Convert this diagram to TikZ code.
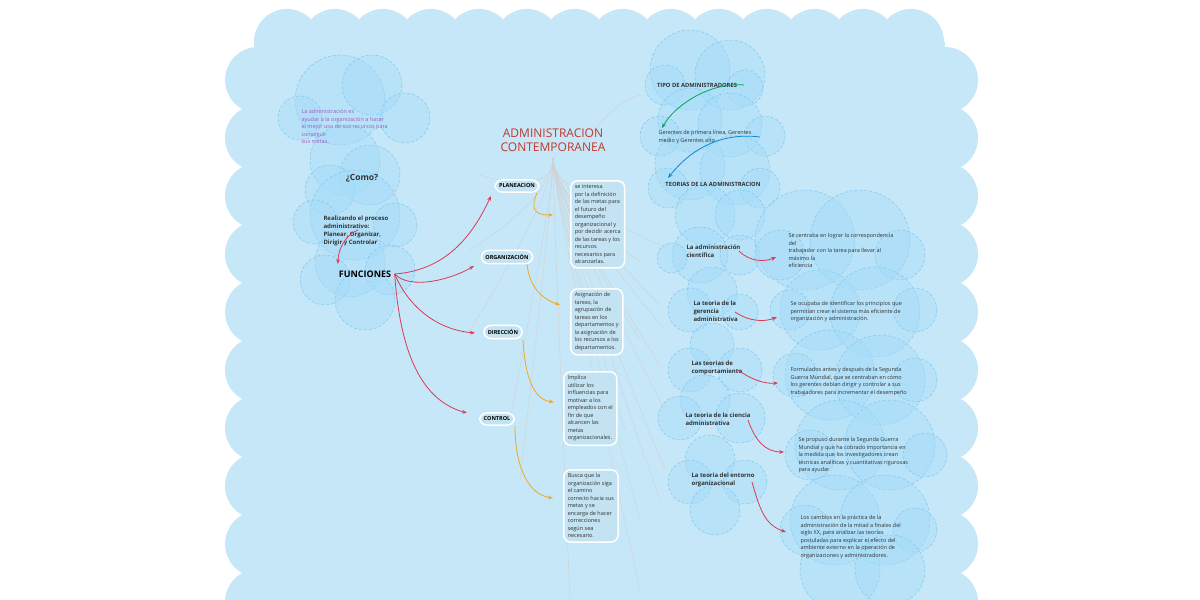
\documentclass[tikz,border=0pt]{standalone}
\usepackage{fontspec}
\setmainfont{Open Sans}
\usetikzlibrary{arrows.meta}
\definecolor{bgb}{HTML}{C6E7F8}
\definecolor{cl}{HTML}{A6DCF8}
\definecolor{cle}{HTML}{7FC8F0}
\definecolor{rd}{HTML}{D93A56}
\definecolor{org}{HTML}{F5A623}
\definecolor{pur}{HTML}{A05CC0}
\definecolor{tit}{HTML}{C0392B}
\definecolor{box}{HTML}{C3E2F2}
\definecolor{txt}{HTML}{333333}
\begin{document}
\begin{tikzpicture}[x=1pt,y=-1pt,
 cld/.style={fill=cl,fill opacity=0.45,draw=cle,densely dashed,line width=0.5pt},
 ra/.style={rd,line width=0.8pt,-{Stealth[length=5pt]}},
 oa/.style={org,line width=0.8pt,-{Stealth[length=5pt]}},
 gl/.style={gray!35,line width=0.45pt},
 tn/.style={font=\fontsize{6}{8}\selectfont\bfseries,text=txt,align=left},
 ds/.style={font=\fontsize{5.5}{7.5}\selectfont,text=txt,align=left},
 fb/.style={rounded corners=7pt,draw=white,line width=1.5pt,fill=box,font=\fontsize{5.5}{7.5}\selectfont\bfseries,inner sep=4pt},
 db/.style={rounded corners=7pt,draw=white,line width=1.5pt,fill=box,font=\fontsize{5.5}{7.5}\selectfont,text=txt,align=left,inner sep=4pt}]
\useasboundingbox (0,0) rectangle (1200,600);
\fill[white] (0,0) rectangle (1200,600);
% background scalloped region
\begin{scope}
\clip (0,0) rectangle (1200,600);
\fill[bgb] (258,42) rectangle (945,620);
\foreach \x in {287,335,383,431,479,527,575,623,671,719,767,815,863,911}
  \fill[bgb] (\x,42) circle (33);
\foreach \y in {80,138,196,254,312,370,428,486,544,602}{
  \fill[bgb] (258,\y) circle (33);
  \fill[bgb] (945,\y) circle (33);}
\end{scope}
% clouds left
\foreach \p/\r in {{(340,100)/45},{(372,85)/30},{(300,118)/22},{(405,118)/25},{(345,160)/35},{(370,175)/30},{(330,190)/25},{(355,215)/45},{(315,222)/22},{(395,225)/22},{(350,262)/35},{(325,280)/25},{(390,270)/25},{(365,300)/30}}
  \draw[cld] \p circle (\r);
% clouds right column
\foreach \p/\r in {{(690,70)/40},{(730,75)/35},{(665,85)/20},{(745,88)/18},{(690,120)/32},{(730,125)/32},{(660,136)/20},{(765,136)/20},{(690,165)/35},{(735,170)/35},{(668,188)/20},{(760,188)/20},{(705,215)/30},{(740,215)/25},{(700,255)/28},{(740,255)/20},{(672,258)/15},{(712,292)/25},{(690,310)/22},{(740,312)/18},{(712,345)/22},{(690,370)/22},{(740,370)/22},{(705,400)/25},{(680,418)/22},{(740,418)/25},{(710,460)/25},{(690,482)/22},{(745,482)/22},{(715,510)/25}}
  \draw[cld] \p circle (\r);
\foreach \p/\r in {{(805,240)/50},{(860,240)/50},{(780,255)/25},{(900,255)/25},{(820,310)/40},{(875,312)/45},{(790,310)/20},{(915,310)/22},{(830,375)/45},{(880,380)/45},{(795,375)/22},{(915,380)/22},{(840,445)/45},{(890,445)/45},{(810,455)/25},{(925,455)/22},{(835,520)/45},{(885,520)/45},{(805,530)/25},{(915,530)/22},{(840,570)/40},{(890,570)/35}}
  \draw[cld] \p circle (\r);
% gray fan lines
\foreach \ex/\ey in {480/175,470/250,470/330,630/195,640/262,640/340,625/430,640/520,660/245,660/305,665/330,660/365,665/410,665/470,660/500,640/590,570/600,520/480,510/420}
  \draw[gl] (553,158) .. controls (553,200) and (\ex,\ey) .. (\ex,\ey);
\draw[gl] (500,152) -- (530,150);
\draw[gl] (580,150) .. controls (600,120) and (620,100) .. (640,95);
% left texts
\node[ds,text=pur,anchor=north west] (adm) at (298,106) {La administración es\\ayudar a la organización a hacer\\el mejor uso de sus recursos para\\conseguir\\sus metas.};
\node[font=\fontsize{8.5}{10}\selectfont\bfseries,text=txt] (como) at (362,178) {¿Como?};
\node[tn,anchor=north west] (real) at (320,212) {Realizando el proceso\\administrativo:\\Planear, Organizar,\\Dirigir y Controlar};
\node[font=\fontsize{9}{10}\selectfont\bfseries,text=black] (fun) at (365,274) {FUNCIONES};
\node[font=\fontsize{12}{14}\selectfont,text=tit,align=center] (title) at (553,140) {ADMINISTRACION\\CONTEMPORANEA};
% function boxes
\node[fb] (pla) at (517,186) {PLANEACION};
\node[fb] (orgz) at (507,257) {ORGANIZACIÓN};
\node[fb] (dir) at (503,332) {DIRECCIÓN};
\node[fb] (con) at (497,419) {CONTROL};
\node[db,anchor=north west] (d1) at (570,180) {se interesa\\por la definición\\de las metas para\\el futuro del\\desempeño\\organizacional y\\por decidir acerca\\de las tareas y los\\recursos\\necesarios para\\alcanzarlas.};
\node[db,anchor=north west] (d2) at (570,288) {Asignación de\\tareas, la\\agrupación de\\tareas en los\\departamentos y\\la asignación de\\los recursos a los\\departamentos.};
\node[db,anchor=north west] (d3) at (563,371) {Implica\\utilizar los\\influencias para\\motivar a los\\empleados con el\\fin de que\\alcancen las\\metas\\organizacionales.};
\node[db,anchor=north west] (d4) at (563,469) {Busca que la\\organización siga\\el camino\\correcto hacia sus\\metas y se\\encarga de hacer\\correcciones\\según sea\\necesario.};
% arrows left
\draw[ra] (358,230) .. controls (345,235) and (338,250) .. (338,264);
\draw[ra] (fun.east) .. controls (450,270) and (475,230) .. (491,196);
\draw[ra] (fun.east) .. controls (410,290) and (450,280) .. (474,266);
\draw[ra] (fun.east) .. controls (410,310) and (440,330) .. (475,333);
\draw[ra] (fun.east) .. controls (400,350) and (420,400) .. (467,413);
\draw[oa] (pla.south) ++(20,0) .. controls (530,210) and (535,215) .. (553,215);
\draw[oa] (orgz.south) ++(20,0) .. controls (530,290) and (545,300) .. (560,305);
\draw[oa] (dir.south) ++(20,0) .. controls (525,380) and (535,400) .. (554,402);
\draw[oa] (con.south) ++(18,0) .. controls (515,470) and (530,495) .. (553,498);
% right column texts
\node[tn,font=\fontsize{5.8}{7.5}\selectfont\bfseries] (tipo) at (697,85) {TIPO DE ADMINISTRADORES};
\node[ds] (ger) at (705,137) {Gerentes de primera línea, Gerentes\\medio y Gerentes alto};
\node[tn,font=\fontsize{5.8}{7.5}\selectfont\bfseries] (teo) at (713,184) {TEORIAS DE LA ADMINISTRACION};
\draw[teal!70!green,line width=0.8pt,-{Stealth[length=5pt]}] (744,85) .. controls (710,82) and (675,105) .. (662,128);
\draw[cyan!70!blue,line width=0.8pt,-{Stealth[length=5pt]}] (760,137) .. controls (720,132) and (690,150) .. (668,178);
\node[tn,anchor=west] (t1) at (683,251) {La administración\\científica};
\node[tn,anchor=west] (t2) at (690,311) {La teoria de la\\gerencia\\administrativa};
\node[tn,anchor=west] (t3) at (688,368) {Las teorias de\\comportamiento};
\node[tn,anchor=west] (t4) at (682,419) {La teoria de la ciencia\\administrativa};
\node[tn,anchor=west] (t5) at (688,480) {La teoria del entorno\\organizacional};
\node[ds,anchor=north west] (r1) at (785,230) {Se centraba en lograr la correspondencia\\del\\trabajador con la tarea para llevar al\\máximo la\\eficiencia};
\node[ds,anchor=north west] (r2) at (787,298) {Se ocupaba de identificar los principios que\\permitían crear el sistema más eficiente de\\organización y administración.};
\node[ds,anchor=north west] (r3) at (787,364) {Formulados antes y después de la Segunda\\Guerra Mundial, que se centraban en cómo\\los gerentes debían dirigir y controlar a sus\\trabajadores para incrementar el desempeño};
\node[ds,anchor=north west] (r4) at (795,434) {Se propuso durante la Segunda Guerra\\Mundial y que ha cobrado importancia en\\la medida que los investigadores crean\\técnicas analíticas y cuantitativas rigurosas\\para ayudar};
\node[ds,anchor=north west] (r5) at (797,512) {Los cambios en la práctica de la\\administración de la mitad a finales del\\siglo XX, para analizar las teorías\\postuladas para explicar el efecto del\\ambiente externo en la operación de\\organizaciones y administradores.};
\draw[ra] (739,251) .. controls (750,262) and (765,262) .. (776,257);
\draw[ra] (735,312) .. controls (750,322) and (765,322) .. (777,317);
\draw[ra] (738,370) .. controls (752,380) and (765,384) .. (778,383);
\draw[ra] (748,420) .. controls (755,440) and (765,452) .. (784,452);
\draw[ra] (752,482) .. controls (760,510) and (765,525) .. (786,532);
\end{tikzpicture}
\end{document}
